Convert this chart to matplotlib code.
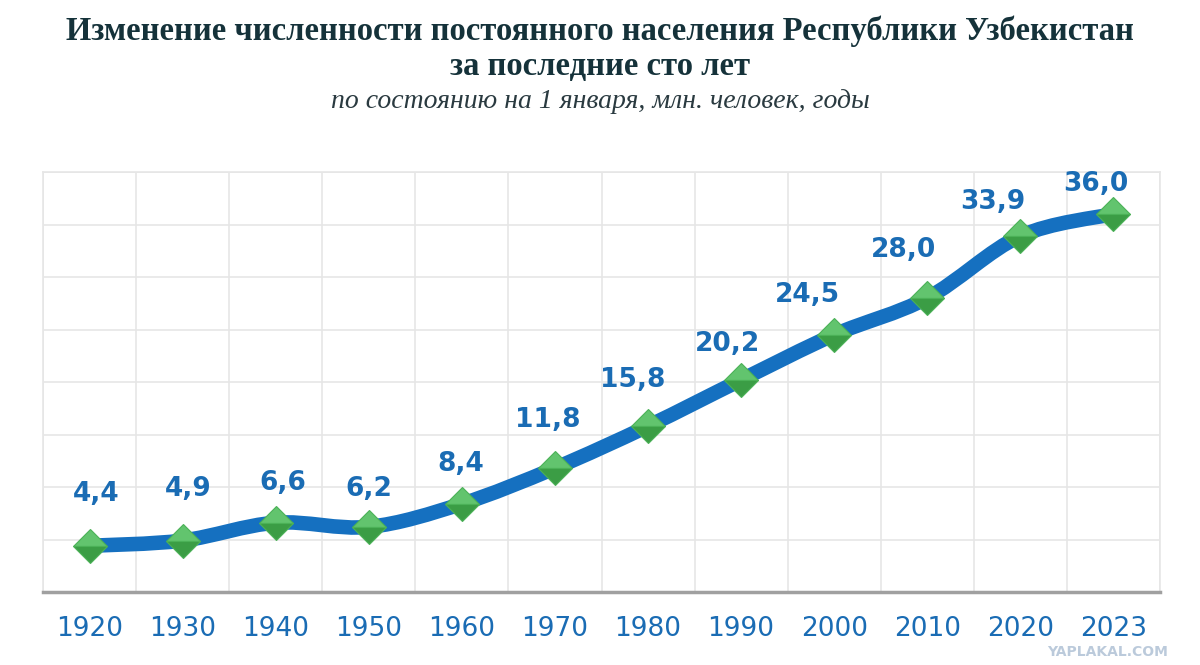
import numpy as np
import matplotlib.pyplot as plt
from matplotlib.path import Path
from matplotlib.patches import PathPatch

YEARS = ["1920", "1930", "1940", "1950", "1960", "1970", "1980",
         "1990", "2000", "2010", "2020", "2023"]
POPULATION = [4.4, 4.9, 6.6, 6.2, 8.4, 11.8, 15.8, 20.2, 24.5, 28.0, 33.9, 36.0]
LABELS = ["4,4", "4,9", "6,6", "6,2", "8,4", "11,8", "15,8",
          "20,2", "24,5", "28,0", "33,9", "36,0"]

# label offsets in pixels (dx, dy) from each marker
LABEL_OFFSETS = [(7, 52), (6, 52), (7, 40), (0, 38), (-1, 40), (-7, 48),
                 (-15, 46), (-14, 36), (-27, 40), (-24, 48), (-28, 34), (-18, 30)]

BLUE = "#1570c0"
LABEL_BLUE = "#1a6cb4"
TITLE_COLOR = "#15323a"

fig = plt.figure(figsize=(12, 6.65), dpi=100)
ax = fig.add_axes([43 / 1200, 1 - 592 / 665, (1160 - 43) / 1200, (592 - 172) / 665])

x = np.arange(len(YEARS))
y = np.array(POPULATION)

# smooth line via cubic bezier segments through the points
pts = np.column_stack([x, y])
verts = [pts[0]]
codes = [Path.MOVETO]
for i in range(len(pts) - 1):
    p0 = pts[i - 1] if i > 0 else pts[i]
    p1 = pts[i]
    p2 = pts[i + 1]
    p3 = pts[i + 2] if i + 2 < len(pts) else pts[i + 1]
    c1 = p1 + (p2 - p0) / 6
    c2 = p2 - (p3 - p1) / 6
    verts += [c1, c2, p2]
    codes += [Path.CURVE4] * 3
curve = PathPatch(Path(verts, codes), facecolor="none", edgecolor=BLUE,
                  lw=10.5, capstyle="round", joinstyle="round", zorder=3)
ax.add_patch(curve)

ax.plot(x, y, linestyle="none", marker="D", markersize=17.5,
        fillstyle="top", markerfacecolor="#62c46e", markerfacecoloralt="#3b9d45",
        markeredgecolor="#4bb157", markeredgewidth=0.8, zorder=4)

for xi, yi, lab, (dx, dy) in zip(x, y, LABELS, LABEL_OFFSETS):
    ax.annotate(lab, (xi, yi), xytext=(dx, dy), textcoords="offset pixels",
                ha="center", va="center", fontsize=19, fontweight="bold",
                color=LABEL_BLUE, family="DejaVu Sans", zorder=5)

ax.set_xlim(-0.5, len(YEARS) - 0.5)
ax.set_ylim(0, 40)
ax.set_yticks(np.arange(0, 41, 5))
ax.set_yticklabels([])
ax.set_xticks(x)
ax.set_xticklabels(YEARS, fontsize=19, color=LABEL_BLUE, family="DejaVu Sans")
ax.set_xticks(np.arange(-0.5, len(YEARS)), minor=True)
ax.tick_params(axis="both", which="both", length=0)
ax.tick_params(axis="x", pad=17)
ax.grid(True, axis="y", color="#e6e6e6", lw=1.2)
ax.grid(True, axis="x", which="minor", color="#e6e6e6", lw=1.2)
ax.grid(False, axis="x", which="major")
ax.set_axisbelow(True)
for side in ["left", "right", "top"]:
    ax.spines[side].set_color("#e6e6e6")
    ax.spines[side].set_linewidth(1.2)
ax.spines["bottom"].set_color("#a0a0a0")
ax.spines["bottom"].set_linewidth(2.5)

fig.text(0.5, 1 - 40 / 665, "Изменение численности постоянного населения Республики Узбекистан",
         ha="center", va="baseline", fontsize=23.5, fontweight="bold",
         family="Liberation Serif", color=TITLE_COLOR)
fig.text(0.5, 1 - 75 / 665, "за последние сто лет",
         ha="center", va="baseline", fontsize=23.5, fontweight="bold",
         family="Liberation Serif", color=TITLE_COLOR)
fig.text(0.5, 1 - 108 / 665, "по состоянию на 1 января, млн. человек, годы",
         ha="center", va="baseline", fontsize=20, style="italic",
         family="Liberation Serif", color="#2a3a40")

fig.text(1108 / 1200, 1 - 652 / 665, "YAPLAKAL.COM", ha="center", va="center",
         fontsize=10, fontweight="bold", color="#8fa8c4", alpha=0.6)

fig.savefig("out.png", dpi=100)
